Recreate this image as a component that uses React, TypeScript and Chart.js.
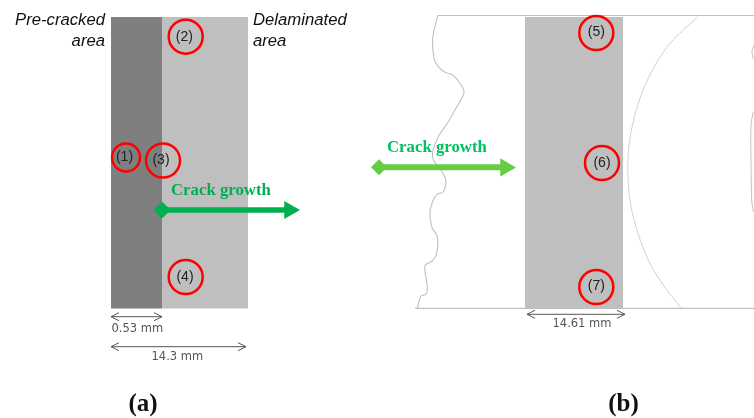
import React, { useEffect, useRef } from "react";
import { Chart, registerables } from "chart.js";

Chart.register(...registerables);

type P = { x: number; y: number };
const pts = (a: number[][]): P[] => a.map(([x, y]) => ({ x, y }));

// Regions (top edge, filled down to the bottom value)
const darkZoneTop = [[111, 17], [162, 17]];
const lightZoneTop = [[162, 17], [248, 17]];
const stripZoneTop = [[525, 17], [623, 17]];
const zoneBottom = 308.5;

// Specimen outline
const topEdge = [[437.5, 15.5], [754, 15.5]];
const bottomEdge = [[415, 308.3], [754, 308.3]];
const leftOutline = [
  [437.7, 15.5], [432.7, 38.3], [434, 58.3], [438.3, 66.7], [445, 72.3], [452.7, 75], [460, 83.3], [464, 92.3],
  [455, 110], [447.3, 123.3], [438.3, 136.7], [432.7, 151.7], [433.3, 160], [440, 168.3], [445.7, 180], [443.3, 191.7],
  [437.3, 194.3], [433.3, 200], [430, 211.7], [431.7, 226.7], [437.3, 236.7], [436.7, 253.3], [432.7, 260.7], [425, 265.7],
  [427.3, 286.7], [426, 294.3], [421, 296], [417.3, 308.3],
];
const arcOutline = [
  [697.3, 17.3], [683.3, 30], [670, 43.3], [658.3, 60], [648.3, 78.3], [640, 98.3], [633.3, 121.7], [629.3, 143.3],
  [628, 160], [628, 176.7], [630, 200], [635, 223.3], [642.7, 246.7], [651.7, 266.7], [663.3, 285], [680.7, 307.7],
];
const rightFragmentA = [[754, 45], [752, 51.7], [753.3, 59.3]];
const rightFragmentB = [[753.3, 111.7], [751, 125], [751, 160], [751.7, 200], [753.3, 211.7]];

// Crack growth arrows
const arrowAShaft = [[162, 210], [286, 210]];
const arrowAHead = [[289.5, 210]];
const arrowATail = [[162, 210]];
const arrowBShaft = [[379, 167.2], [502, 167.2]];
const arrowBHead = [[505.5, 167.4]];
const arrowBTail = [[379, 167.2]];

// Dimension arrows
const dimA1 = [[111, 316.7], [162, 316.7]];
const dimA2 = [[111, 346.7], [246, 346.7]];
const dimB = [[527, 314.3], [625, 314.3]];
const dimHeads = [
  [[119, 312.7], [111, 316.7], [119, 320.7]],
  [[154, 312.7], [162, 316.7], [154, 320.7]],
  [[119, 342.7], [111, 346.7], [119, 350.7]],
  [[238, 342.7], [246, 346.7], [238, 350.7]],
  [[535, 310.3], [527, 314.3], [535, 318.3]],
  [[617, 310.3], [625, 314.3], [617, 318.3]],
];

// Measurement circles
const circleLabels = ["(1)", "(2)", "(3)", "(4)", "(5)", "(6)", "(7)"];
const circleX = [126, 185.7, 163, 185.7, 596.3, 602, 596.3];
const circleY = [157.5, 36.7, 160.5, 277, 33, 163, 287];
const circleR = [14, 17, 17, 17, 17, 17, 17];
const circleLabelX = [124.5, 184.3, 161, 185, 596.3, 602, 596.3];
const circleLabelY = [157, 36.7, 160, 276.7, 32.3, 162.7, 286];

// Texts
const textLabels = [
  "Pre-cracked", "area", "Delaminated", "area", "Crack growth", "Crack growth", "0.53 mm", "14.3 mm", "14.61 mm",
];
const textX = [105, 105, 253, 253, 171, 387, 111.5, 151.5, 552.5];
const textY = [20.5, 41, 20.5, 41, 191, 147.5, 329, 357, 324];
const panelLabels = ["(a)", "(b)"];
const panelX = [143, 623.5];
const panelY = [405, 405];

const line = (data: number[][], color: string, width: number, extra: object = {}) => ({
  data: pts(data),
  showLine: true,
  borderColor: color,
  borderWidth: width,
  pointRadius: 0,
  fill: false,
  ...extra,
});

const marker = (data: number[][], color: string, style: string, radius: number, rotation = 0) => ({
  data: pts(data),
  showLine: false,
  pointStyle: style,
  pointRadius: radius,
  pointRotation: rotation,
  pointBackgroundColor: color,
  pointBorderColor: color,
  pointBorderWidth: 0,
});

const zone = (data: number[][], color: string) => ({
  data: pts(data),
  showLine: true,
  borderWidth: 0,
  borderColor: color,
  backgroundColor: color,
  pointRadius: 0,
  fill: { value: zoneBottom },
});

const GREEN_A = "#00b050";
const GREEN_B = "#66cc44";
const OUT = "#c0c0c0";
const DIM = "#555555";

export default function App() {
  const ref = useRef<HTMLCanvasElement>(null);
  useEffect(() => {
    document.body.style.margin = "0";
    const textPlugin = {
      id: "textPlugin",
      afterDatasetsDraw(chart: any) {
        const { ctx, scales } = chart;
        const put = (t: string, x: number, y: number, font: string, color: string, align: CanvasTextAlign) => {
          ctx.font = font;
          ctx.fillStyle = color;
          ctx.textAlign = align;
          ctx.textBaseline = "middle";
          ctx.fillText(t, scales.x.getPixelForValue(x), scales.y.getPixelForValue(y));
        };
        ctx.save();
        const arial = "Liberation Sans";
        circleLabels.forEach((t, i) => {
          put(t, circleLabelX[i], circleLabelY[i], `14px "${arial}"`, "#222222", "center");
        });
        const italic = `italic 16.7px "${arial}"`;
        const serifBold = `bold 16.8px "Liberation Serif"`;
        const dim = `11.5px "DejaVu Sans"`;
        const fonts = [italic, italic, italic, italic, serifBold, serifBold, dim, dim, dim];
        const colors = ["#111", "#111", "#111", "#111", GREEN_A, "#00c060", "#555", "#555", "#555"];
        const aligns: CanvasTextAlign[] = ["right", "right", "left", "left", "left", "left", "left", "left", "left"];
        textLabels.forEach((t, i) => put(t, textX[i], textY[i], fonts[i], colors[i], aligns[i]));
        panelLabels.forEach((t, i) => put(t, panelX[i], panelY[i], `bold 25px "Liberation Serif"`, "#111", "center"));
        ctx.restore();
      },
    };
    const chart = new Chart(ref.current!, {
      type: "scatter",
      data: {
        datasets: [
          {
            data: circleX.map((x, i) => ({ x, y: circleY[i] })),
            pointRadius: circleR,
            pointBackgroundColor: "rgba(0,0,0,0)",
            pointBorderColor: "#ff0000",
            pointBorderWidth: 2.5,
            showLine: false,
          },
          marker(arrowAHead, GREEN_A, "triangle", 10.5, 90),
          marker(arrowATail, GREEN_A, "rectRot", 8.5),
          line(arrowAShaft, GREEN_A, 5.5),
          marker(arrowBHead, GREEN_B, "triangle", 10.5, 90),
          marker(arrowBTail, GREEN_B, "rectRot", 8),
          line(arrowBShaft, GREEN_B, 6),
          ...dimHeads.map((h) => line(h, DIM, 1)),
          line(dimA1, DIM, 1),
          line(dimA2, DIM, 1),
          line(dimB, DIM, 1),
          line(topEdge, OUT, 1.2),
          line(bottomEdge, OUT, 1.2),
          line(leftOutline, OUT, 1.1, { tension: 0.3 }),
          line(arcOutline, "#cfcfcf", 1, { tension: 0.4 }),
          line(rightFragmentA, OUT, 1, { tension: 0.3 }),
          line(rightFragmentB, OUT, 1, { tension: 0.3 }),
          zone(darkZoneTop, "#7f7f7f"),
          zone(lightZoneTop, "#bfbfbf"),
          zone(stripZoneTop, "#bfbfbf"),
        ] as any,
      },
      options: {
        responsive: false,
        animation: false,
        events: [],
        layout: { padding: 0, autoPadding: false },
        scales: {
          x: { type: "linear", min: 0, max: 754, display: false },
          y: { type: "linear", min: 0, max: 418, reverse: true, display: false },
        },
        plugins: { legend: { display: false }, tooltip: { enabled: false }, title: { display: false } },
      },
      plugins: [textPlugin],
    });
    return () => chart.destroy();
  }, []);
  return (
    <div style={{ position: "absolute", left: 0, top: 0, width: 754, height: 418, background: "#fff" }}>
      <canvas ref={ref} width={754} height={418} style={{ display: "block" }} />
    </div>
  );
}
